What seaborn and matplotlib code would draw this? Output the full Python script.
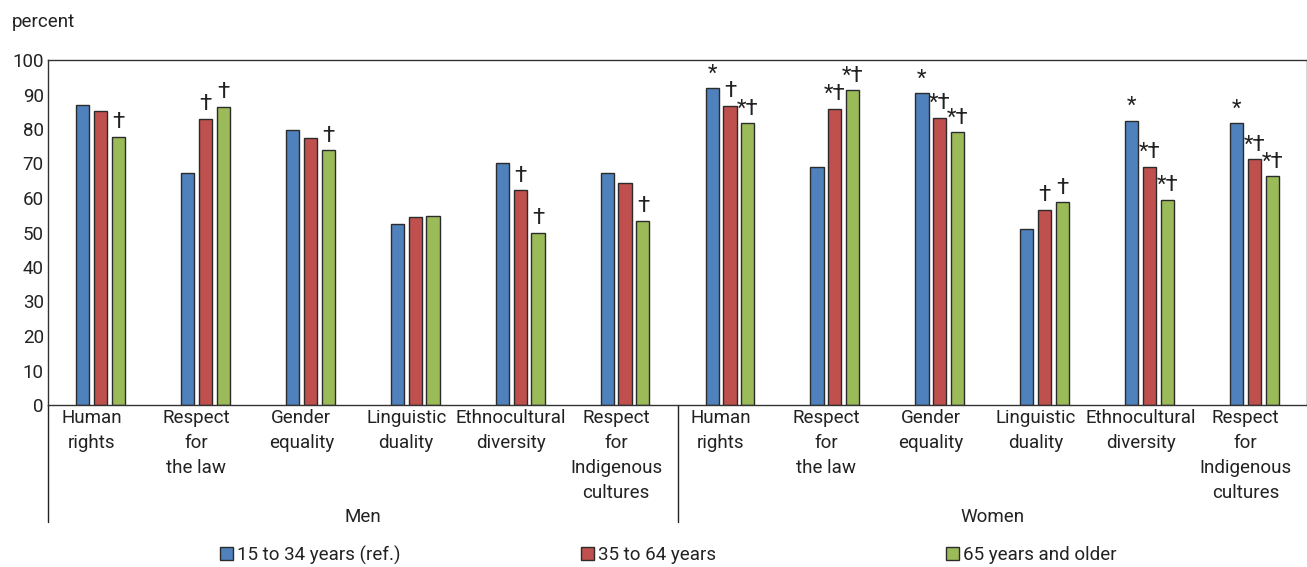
import numpy as np
import pandas as pd
import matplotlib
matplotlib.use("Agg")
import matplotlib.pyplot as plt
import matplotlib.transforms as mtransforms
from matplotlib.patches import Rectangle
import seaborn as sns

groups = ["Men", "Women"]
values_of = ["Human\nrights", "Respect\nfor\nthe law", "Gender\nequality",
             "Linguistic\nduality", "Ethnocultural\ndiversity",
             "Respect\nfor\nIndigenous\ncultures"]
ages = ["15 to 34 years (ref.)", "35 to 64 years", "65 years and older"]

young = [87.0, 67.3, 79.7, 52.5, 70.1, 67.3,
         91.8, 69.0, 90.3, 51.1, 82.4, 81.8]
middle = [85.3, 83.0, 77.5, 54.4, 62.2, 64.3,
          86.8, 85.9, 83.3, 56.6, 69.0, 71.2]
older = [77.7, 86.5, 73.9, 54.9, 49.9, 53.4,
         81.7, 91.2, 79.1, 58.8, 59.5, 66.3]

# significance marks (* vs women, † vs ref. age group)
marks_young = ["", "", "", "", "", "", "*", "", "*", "", "*", "*"]
marks_middle = ["", "†", "", "", "†", "", "†", "*†", "*†", "†", "*†", "*†"]
marks_older = ["†", "†", "†", "", "†", "†", "*†", "*†", "*†", "†", "*†", "*†"]

colors = ["#4F81BD", "#C0504D", "#9BBB59"]

cats = [g + "|" + v for g in groups for v in values_of]
df = pd.DataFrame({
    "cat": cats * 3,
    "age": np.repeat(ages, len(cats)),
    "pct": young + middle + older,
})

sns.set_style("white")
plt.rcParams["font.family"] = ["Roboto", "DejaVu Sans"]
plt.rcParams["text.color"] = "#222222"
fs = 13.5

fig = plt.figure(figsize=(13.07, 5.67), dpi=100)
ax = fig.add_axes([48 / 1307, 1 - 405 / 567, 1 - 48 / 1307, (405 - 60) / 567])

sns.barplot(data=df, x="cat", y="pct", hue="age", order=cats, hue_order=ages,
            palette=colors, saturation=1, width=0.51, gap=0.26,
            edgecolor="#2b2b2b", linewidth=1.0, legend=False, ax=ax)

ax.set_xlim(-0.5, 11.5)
ax.set_ylim(0, 100)
ax.set_yticks(range(0, 101, 10))
ax.tick_params(axis="y", direction="in", length=5, color="#333333",
               labelsize=fs, labelcolor="#222222", pad=3)
ax.tick_params(axis="x", length=0, labelsize=fs, labelcolor="#222222", pad=3)
ax.set_xticks(range(len(cats)))
ax.set_xticklabels(values_of * 2, linespacing=1.5, va="top")
offset = mtransforms.ScaledTranslation(-9 / 100, 0, fig.dpi_scale_trans)
for lab in ax.get_xticklabels():
    lab.set_transform(lab.get_transform() + offset)
ax.set_xlabel("")
ax.set_ylabel("")
for s in ax.spines.values():
    s.set_color("#333333")
    s.set_linewidth(1.0)

# marks above bars
all_marks = [marks_young, marks_middle, marks_older]
for k, cont in enumerate(ax.containers):
    for i, bar in enumerate(cont):
        m = all_marks[k][i]
        if m:
            ax.text(bar.get_x() + bar.get_width() / 2, bar.get_height() + 1.0, m,
                    ha="center", va="bottom", fontsize=16, color="#222222")

# group separators and labels
trans = mtransforms.blended_transform_factory(ax.transData, ax.transAxes)
for xs in [-0.5, 5.5]:
    ax.plot([xs, xs], [0, -117 / 345], transform=trans, color="#222222",
            lw=1.0, clip_on=False)
ax.text(2.5, -112 / 345, "Men", transform=trans, ha="center", va="center",
        fontsize=fs)
ax.text(8.5, -112 / 345, "Women", transform=trans, ha="center", va="center",
        fontsize=fs)

fig.text(12 / 1307, 1 - 22 / 567, "percent", ha="left", va="center", fontsize=fs)

# legend entries placed individually
leg_x = [220, 581, 946]
for c, name, lx in zip(colors, ages, leg_x):
    h = Rectangle((0, 0), 1, 1, facecolor=c, edgecolor="#2b2b2b", linewidth=1.0)
    fig.legend([h], [name], loc="center left",
               bbox_to_anchor=(lx / 1307, 1 - 555 / 567), frameon=False,
               fontsize=fs, handlelength=0.7, handleheight=0.7,
               handletextpad=0.2, borderpad=0, borderaxespad=0)

fig.savefig("out.png", dpi=100)
